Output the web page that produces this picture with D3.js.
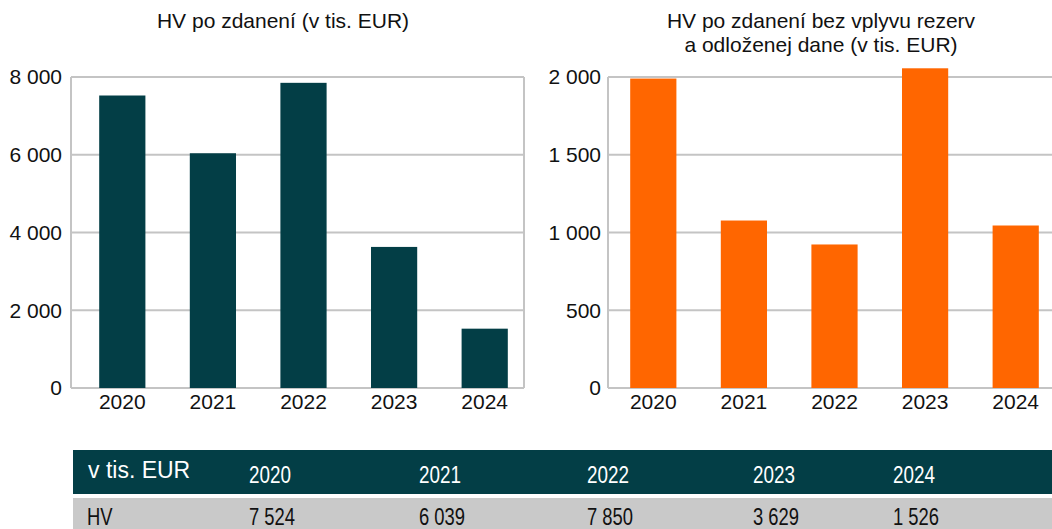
<!DOCTYPE html>
<html>
<head>
<meta charset="utf-8">
<script src="https://cdn.jsdelivr.net/npm/d3@7"></script>
<style>
  body { margin: 0; background: #fff; }
  svg { display: block; font-family: "Liberation Sans", Arial, sans-serif; }
</style>
</head>
<body>
<div id="chart"></div>
<script>
var years = ["2020", "2021", "2022", "2023", "2024"]
var hvValues = [7524, 6039, 7850, 3629, 1526]
var hvAdjValues = [1990, 1077, 923, 2056, 1045]
var leftTicks = [0, 2000, 4000, 6000, 8000]
var rightTicks = [0, 500, 1000, 1500, 2000]
var leftTitle = ["HV po zdanení (v tis. EUR)"]
var rightTitle = ["HV po zdanení bez vplyvu rezerv", "a odloženej dane (v tis. EUR)"]
var tableHead = "v tis. EUR"
var rowLabel = "HV"

var width = 1052
var height = 529
var teal = "#033e46"
var orange = "#ff6600"
var grid = "#c4c4c4"

var fmt = function(v){ return d3.format(",")(v).replace(/,/g, " ") }

var svg = d3.select("#chart")
    .append("svg")
        .attr("width", width)
        .attr("height", height)

function barChart(opts){
    var x = d3.scaleBand()
        .domain(years)
        .range([opts.left + opts.shift, opts.left + opts.shift + 453])
        .paddingInner(0.49)
        .paddingOuter(0.245)

    var y = d3.scaleLinear()
        .domain([0, opts.max])
        .range([388, 77])

    var g = svg.append("g")

    // gridlines
    g.selectAll(".grid")
        .data(opts.ticks)
        .enter()
        .append("line")
            .attr("x1", opts.left)
            .attr("x2", opts.frameRight)
            .attr("y1", d=>y(d))
            .attr("y2", d=>y(d))
            .attr("stroke", grid)
            .attr("stroke-width", 2)

    // frame sides
    g.append("line")
        .attr("x1", opts.left).attr("x2", opts.left)
        .attr("y1", y(opts.max)).attr("y2", y(0))
        .attr("stroke", grid).attr("stroke-width", 2)
    if (opts.frameRight < width) {
        g.append("line")
            .attr("x1", opts.frameRight).attr("x2", opts.frameRight)
            .attr("y1", y(opts.max)).attr("y2", y(0))
            .attr("stroke", grid).attr("stroke-width", 2)
    }

    // bars
    g.selectAll(".bar")
        .data(opts.values)
        .enter()
        .append("rect")
            .attr("x", (d,i)=>x(years[i]))
            .attr("y", d=>y(d))
            .attr("width", x.bandwidth())
            .attr("height", d=>y(0) - y(d))
            .attr("fill", opts.color)

    // y tick labels
    g.selectAll(".ytick")
        .data(opts.ticks)
        .enter()
        .append("text")
            .attr("x", opts.left - opts.labelGap)
            .attr("y", d=>y(d))
            .attr("dy", "0.35em")
            .attr("text-anchor", "end")
            .attr("font-size", 21)
            .attr("fill", "#111")
            .text(fmt)

    // x tick labels
    g.selectAll(".xtick")
        .data(years)
        .enter()
        .append("text")
            .attr("x", d=>x(d) + x.bandwidth()/2)
            .attr("y", 409)
            .attr("text-anchor", "middle")
            .attr("font-size", 21)
            .attr("fill", "#111")
            .text(d=>d)

    // title
    g.selectAll(".title")
        .data(opts.title)
        .enter()
        .append("text")
            .attr("x", opts.titleX)
            .attr("y", (d,i)=>28 + i*24)
            .attr("text-anchor", "middle")
            .attr("font-size", 21)
            .attr("fill", "#111")
            .text(d=>d)
}

barChart({left: 71, shift: 6, frameRight: 524, max: 8000, ticks: leftTicks, values: hvValues,
    color: teal, labelGap: 9, title: leftTitle, titleX: 283})
barChart({left: 608, shift: 0, frameRight: width + 20, max: 2000, ticks: rightTicks, values: hvAdjValues,
    color: orange, labelGap: 7, title: rightTitle, titleX: 821})

//// table ////
var colX = d3.scaleOrdinal(years, [249, 419, 587, 753, 893])

svg.append("rect")
    .attr("x", 73).attr("y", 450)
    .attr("width", width - 73).attr("height", 44)
    .attr("fill", teal)
svg.append("rect")
    .attr("x", 73).attr("y", 498)
    .attr("width", width - 73).attr("height", 40)
    .attr("fill", "#c9c9c9")

svg.append("text")
    .attr("x", 88).attr("y", 478)
    .attr("font-size", 23)
    .attr("fill", "#fff")
    .text(tableHead)

// narrow text: squeeze horizontally
var squeeze = 0.82

svg.selectAll(".head")
    .data(years)
    .enter()
    .append("text")
        .attr("transform", d=>"translate(" + colX(d) + ",483) scale(" + squeeze + ",1)")
        .attr("font-size", 23)
        .attr("fill", "#fff")
        .text(d=>d)

svg.append("text")
    .attr("transform", "translate(87,525) scale(0.8,1)")
    .attr("font-size", 23)
    .attr("fill", "#111")
    .text(rowLabel)

svg.selectAll(".val")
    .data(hvValues)
    .enter()
    .append("text")
        .attr("transform", (d,i)=>"translate(" + colX(years[i]) + ",525) scale(0.8,1)")
        .attr("font-size", 23)
        .attr("fill", "#111")
        .text(fmt)
</script>
</body>
</html>
